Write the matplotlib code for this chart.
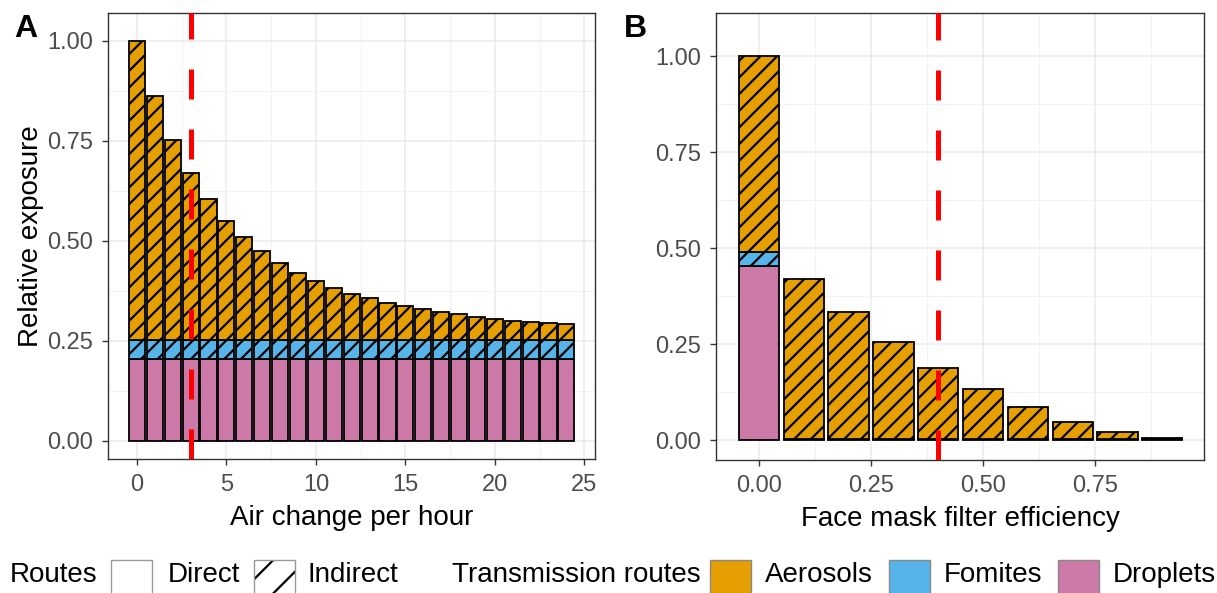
import matplotlib

matplotlib.use("Agg")
import matplotlib.pyplot as plt
from matplotlib.patches import Rectangle
from matplotlib.ticker import MultipleLocator, FixedLocator

plt.rcParams["font.family"] = ["Liberation Sans", "DejaVu Sans"]
plt.rcParams["hatch.linewidth"] = 1.6

# Painel A: troca de ar por hora
ach = list(range(25))
total_a = [1.00, 0.861, 0.752, 0.670, 0.604, 0.550, 0.508, 0.473, 0.444, 0.420,
           0.398, 0.381, 0.367, 0.356, 0.345, 0.337, 0.329, 0.321, 0.316, 0.309,
           0.304, 0.2995, 0.296, 0.2945, 0.291]
gotas_a = [0.203] * 25
fomites_a = [0.049] * 25
aerossois_a = [t - g - f for t, g, f in zip(total_a, gotas_a, fomites_a)]

# Painel B: eficiencia do filtro da mascara
eficiencia = [0.0, 0.1, 0.2, 0.3, 0.4, 0.5, 0.6, 0.7, 0.8, 0.9]
total_b = [1.00, 0.419, 0.333, 0.256, 0.1875, 0.132, 0.085, 0.048, 0.021, 0.005]
gotas_b = [0.453, 0.002, 0.002, 0.002, 0.002, 0.002, 0.002, 0.002, 0.002, 0.002]
fomites_b = [0.037, 0.001, 0.001, 0.001, 0.001, 0.001, 0.001, 0.001, 0.001, 0.001]
aerossois_b = [t - g - f for t, g, f in zip(total_b, gotas_b, fomites_b)]

cores = {"Aerosols": "#E69F00", "Fomites": "#56B4E9", "Droplets": "#CC79A7"}
cinza_texto = "#4D4D4D"
cinza_borda = "#333333"
tam_titulo = 20


def _estilo_eixo(ax):
    ax.set_facecolor("white")
    ax.set_axisbelow(True)
    ax.grid(which="major", color="#EBEBEB", lw=1.1)
    ax.grid(which="minor", color="#F2F2F2", lw=0.7)
    for sp in ax.spines.values():
        sp.set_color(cinza_borda)
        sp.set_linewidth(1.0)
    ax.tick_params(which="major", length=4, width=1.0, color=cinza_borda,
                   labelsize=17, labelcolor=cinza_texto)
    ax.tick_params(axis="x", which="major", pad=7)
    ax.tick_params(axis="y", which="major", pad=7)
    ax.tick_params(which="minor", length=0)


def _empilhar(ax, x, largura, gotas, fomites, aerossois):
    ax.bar(x, gotas, width=largura, color=cores["Droplets"], edgecolor="black", lw=1.3, zorder=2)
    ax.bar(x, fomites, width=largura, bottom=gotas, color=cores["Fomites"], edgecolor="black",
           lw=1.3, hatch="//", zorder=2)
    base = [g + f for g, f in zip(gotas, fomites)]
    ax.bar(x, aerossois, width=largura, bottom=base, color=cores["Aerosols"], edgecolor="black",
           lw=1.3, hatch="//", zorder=2)


fig = plt.figure(figsize=(12.17, 5.93), dpi=100)
ax_a = fig.add_axes([108 / 1217, 1 - 459 / 593, 487 / 1217, 446 / 593])
ax_b = fig.add_axes([716 / 1217, 1 - 460 / 593, 488 / 1217, 447 / 593])

# ---- A
_estilo_eixo(ax_a)
_empilhar(ax_a, ach, 0.9, gotas_a, fomites_a, aerossois_a)
ax_a.axvline(3, color="#FF0000", lw=3.6, dashes=(6, 6), zorder=3)
ax_a.set_xlim(-1.62, 25.6)
ax_a.set_ylim(-0.046, 1.069)
ax_a.xaxis.set_major_locator(MultipleLocator(5))
ax_a.xaxis.set_minor_locator(FixedLocator([2.5, 7.5, 12.5, 17.5, 22.5]))
ax_a.yaxis.set_major_locator(FixedLocator([0, 0.25, 0.5, 0.75, 1.0]))
ax_a.yaxis.set_minor_locator(FixedLocator([0.125, 0.375, 0.625, 0.875]))
ax_a.set_yticklabels(["0.00", "0.25", "0.50", "0.75", "1.00"])
ax_a.set_xlabel("Air change per hour", fontsize=tam_titulo, labelpad=6)
ax_a.set_ylabel("Relative exposure", fontsize=tam_titulo, labelpad=2)

# ---- B
_estilo_eixo(ax_b)
_empilhar(ax_b, eficiencia, 0.09, gotas_b, fomites_b, aerossois_b)
ax_b.axvline(0.4, color="#FF0000", lw=3.6, dashes=(6, 6), zorder=3)
ax_b.set_xlim(-0.096, 0.993)
ax_b.set_ylim(-0.052, 1.112)
ax_b.xaxis.set_major_locator(FixedLocator([0, 0.25, 0.5, 0.75]))
ax_b.xaxis.set_minor_locator(FixedLocator([0.125, 0.375, 0.625, 0.875]))
ax_b.set_xticklabels(["0.00", "0.25", "0.50", "0.75"])
ax_b.yaxis.set_major_locator(FixedLocator([0, 0.25, 0.5, 0.75, 1.0]))
ax_b.yaxis.set_minor_locator(FixedLocator([0.125, 0.375, 0.625, 0.875]))
ax_b.set_yticklabels(["0.00", "0.25", "0.50", "0.75", "1.00"])
ax_b.set_xlabel("Face mask filter efficiency", fontsize=tam_titulo, labelpad=6)

fig.text(14 / 1217, 1 - 29 / 593, "A", fontsize=23, fontweight="bold", va="center")
fig.text(624 / 1217, 1 - 29 / 593, "B", fontsize=23, fontweight="bold", va="center")

# ---- legenda manual, em pixels
leg = fig.add_axes([0, 0, 1, 1])
leg.set_xlim(0, 1217)
leg.set_ylim(593, 0)
leg.axis("off")
y_txt = 575
chave_y, chave_h, chave_w = 560, 45, 41
leg.text(10, y_txt, "Routes", fontsize=tam_titulo, va="center")
leg.add_patch(Rectangle((111, chave_y), chave_w, chave_h, facecolor="white", edgecolor="#999999", lw=1))
leg.text(168, y_txt, "Direct", fontsize=tam_titulo, va="center")
# hachura preta com borda cinza: duas camadas
leg.add_patch(Rectangle((254, chave_y), chave_w, chave_h, facecolor="white", edgecolor="black",
                        lw=0, hatch="/"))
leg.add_patch(Rectangle((254, chave_y), chave_w, chave_h, facecolor="none", edgecolor="#999999", lw=1))
leg.text(308, y_txt, "Indirect", fontsize=tam_titulo, va="center")
leg.text(452, y_txt, "Transmission routes", fontsize=tam_titulo, va="center")
for x0, nome in [(710, "Aerosols"), (889, "Fomites"), (1058, "Droplets")]:
    leg.add_patch(Rectangle((x0, chave_y), chave_w, chave_h, facecolor=cores[nome],
                            edgecolor="#888888", lw=1))
    leg.text(x0 + 55, y_txt, nome, fontsize=tam_titulo, va="center")

fig.savefig("out.png", dpi=100)
